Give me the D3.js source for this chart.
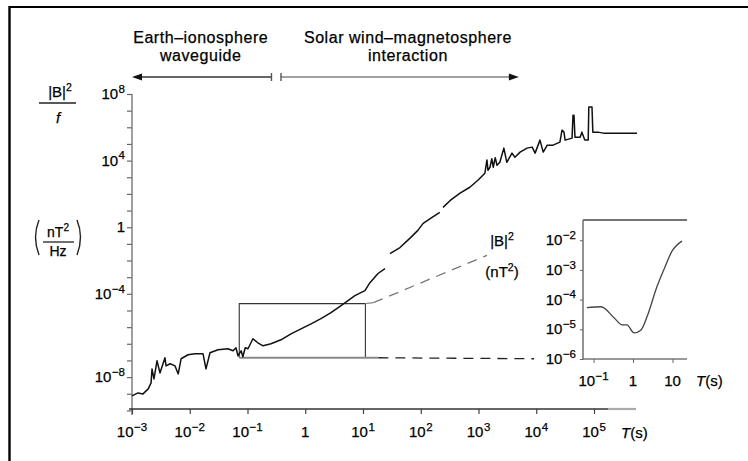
<!DOCTYPE html>
<html><head><meta charset="utf-8">
<script src="https://cdn.jsdelivr.net/npm/d3@7"></script>
<style>
body{margin:0;background:#fff}
svg{display:block}
text{font-family:"Liberation Sans",Arial,Helvetica,sans-serif;fill:#000;stroke:#000;stroke-width:0.25}
</style>
</head><body>
<svg id="c" width="748" height="461"></svg>
<script>
// ---- data (period T in s, |B|^2/f in nT^2/Hz); null = gap in the trace
const periods = [1.0e-3,1.27e-3,1.55e-3,1.91e-3,2.14e-3,2.22e-3,2.40e-3,2.71e-3,3.05e-3,3.72e-3,3.89e-3,4.57e-3,5.56e-3,6.31e-3,7.08e-3,9.33e-3,
  1.23e-2,1.70e-2,1.91e-2,2.24e-2,3.09e-2,4.57e-2,5.62e-2,6.31e-2,6.84e-2,7.76e-2,8.32e-2,9.12e-2,0.102,0.124,0.151,0.186,0.255,0.380,0.566,0.843,
  1.26,1.87,2.79,4.17,5.50,7.24,10.8,13.2,18.2,24.0,null,
  29.3,43.7,64.6,89.1,110,157,214,null,
  243,324,479,708,977,1290,1400,1460,1580,1700,1800,1950,2090,2340,2750,3090,3800,4270,5250,6920,8510,9550,
  1.16e4,1.32e4,1.55e4,1.95e4,2.57e4,2.79e4,3.02e4,3.16e4,4.17e4,4.33e4,4.50e4,4.68e4,5.75e4,6.17e4,6.92e4,7.94e4,8.13e4,9.23e4,9.55e4,
  1.17e5,1.45e5,5.56e5];
const power = [7.4e-11,1.12e-10,9.8e-11,1.95e-10,4.47e-10,3.09e-9,7.76e-10,9.55e-9,1.78e-9,1.45e-8,4.68e-9,6.31e-9,4.68e-9,1.55e-9,1.26e-8,2.19e-8,
  2.51e-8,2.51e-8,3.09e-9,2.88e-8,4.37e-8,5.01e-8,3.80e-8,5.75e-8,1.91e-8,3.80e-8,1.66e-8,5.75e-8,5.01e-8,2.0e-7,1.15e-7,7.59e-8,1.0e-7,1.74e-7,3.98e-7,7.94e-7,
  1.58e-6,3.24e-6,7.41e-6,1.95e-5,3.89e-5,7.76e-5,1.55e-4,4.68e-4,1.66e-3,3.31e-3,null,
  2.63e-2,6.03e-2,0.214,0.646,1.70,3.89,7.76,null,
  15.5,40.7,110,251,661,1740,1.1e4,2600,3980,1.3e4,4000,1.5e4,5250,7940,5.62e4,7940,2.82e4,1.58e4,3.24e4,5.62e4,6.46e4,2.82e4,
  1.70e5,3.24e4,8.51e4,8.51e4,1.29e5,6.76e5,5.13e5,1.70e5,2.24e5,5.37e6,5.37e6,2.57e5,2.57e5,5.13e5,1.70e5,1.70e5,1.66e7,1.66e7,5.13e5,
  5.13e5,4.47e5,4.47e5];

// inset: |B|^2 (nT^2) vs T (s)
const insetPeriods = [0.068,0.155,0.33,0.53,0.70,1.06,1.6,2.26,4.05,6.1,9.7,17.4];
const insetPower = [5.37e-5,5.75e-5,2.45e-5,1.41e-5,1.41e-5,7.59e-6,9.55e-6,2.63e-5,2.75e-4,1.05e-3,4.27e-3,9.33e-3];

// ticks / labels
const xTickVals = [1e-3,1e-2,1e-1,1,1e1,1e2,1e3,1e4,1e5];
const xTickLabels = [["10","−3"],["10","−2"],["10","−1"],["1",""],["10","1"],["10","2"],["10","3"],["10","4"],["10","5"]];
const yMinorVals = [1e-11,1e-10,1e-9,1e-8,1e-7,1e-6,1e-5,1e-4,1e-3,1e-2,1e-1,1,1e1,1e2,1e3,1e4,1e5,1e6,1e7,1e8];
const yTickVals = [1e8,1e4,1,1e-4,1e-9];
const yTickLabels = [["10","8"],["10","4"],["1",""],["10","−4"],["10","−8"]];
const insetXTickVals = [0.1,1,10];
const insetXTickLabels = [["10","−1"],["1",""],["10",""]];
const insetYTickVals = [1e-2,1e-3,1e-4,1e-5,1e-6];
const insetYTickLabels = [["10","−2"],["10","−3"],["10","−4"],["10","−5"],["10","−6"]];

const regionNames = [["Earth–ionosphere","waveguide"],["Solar  wind–magnetosphere","interaction"]];
const regionSpans = [[1e-3,0.26],[0.38,5.0e3]];
const zoomBox = {t0:0.072, t1:11, p0:1.45e-8, p1:2.57e-5};

// ---- drawing
const svg = d3.select("#c");
const x = d3.scaleLog().domain([1e-3,1e5]).range([132,594]);
const y = d3.scaleLog().domain([1e-11,1e8]).range([410.4,94]);
const ix = d3.scaleLog().domain([0.054,23.3]).range([583,687]);
const iy = d3.scaleLog().domain([1e-6,0.048]).range([359,220]);

// frame
svg.append("line").attr("x1",9).attr("x2",748).attr("y1",7).attr("y2",7).attr("stroke","#000").attr("stroke-width",2.2);
svg.append("line").attr("x1",9.5).attr("x2",9.5).attr("y1",6).attr("y2",461).attr("stroke","#000").attr("stroke-width",2.4);

function supText(g, base, sup, fs, sfs){
  const t = g.append("text").attr("font-size",fs);
  t.append("tspan").text(base);
  if (sup) t.append("tspan").attr("font-size",sfs).attr("dy",-fs*0.42).attr("dx",0.5).text(sup);
  return t;
}

// region headers
regionNames.forEach((lines,i)=>{
  const cx = (x(regionSpans[i][0]) + x(regionSpans[i][1]))/2 + (i===0? -1: 8);
  lines.forEach((s,j)=>{
    svg.append("text").attr("x",cx).attr("y",43+j*18).attr("text-anchor","middle")
      .attr("font-size",16).attr("letter-spacing",0.55).text(s);
  });
});
const ay = 77;
svg.append("line").attr("x1",x(regionSpans[0][0])+6).attr("x2",x(regionSpans[0][1])).attr("y1",ay).attr("y2",ay).attr("stroke","#666").attr("stroke-width",2);
svg.append("path").attr("d",`M${x(regionSpans[0][0])},${ay} l10,-3.5 l0,7 z`).attr("fill","#111");
svg.append("line").attr("x1",x(regionSpans[0][1])).attr("x2",x(regionSpans[0][1])).attr("y1",ay-4).attr("y2",ay+4).attr("stroke","#555").attr("stroke-width",1.4);
svg.append("line").attr("x1",x(regionSpans[1][0])).attr("x2",x(regionSpans[1][0])).attr("y1",ay-4).attr("y2",ay+4).attr("stroke","#555").attr("stroke-width",1.4);
svg.append("line").attr("x1",x(regionSpans[1][0])).attr("x2",x(regionSpans[1][1])-6).attr("y1",ay).attr("y2",ay).attr("stroke","#444").attr("stroke-width",1.2);
svg.append("path").attr("d",`M${x(regionSpans[1][1])},${ay} l-10,-3.5 l0,7 z`).attr("fill","#111");

// y axis
const gy = svg.append("g").attr("transform","translate(132,0)")
  .call(d3.axisLeft(y).tickValues(yMinorVals).tickSize(5).tickFormat(""));
gy.select(".domain").remove();
gy.selectAll(".tick line").attr("stroke","#666").attr("stroke-width",1.2);
svg.append("line").attr("x1",132).attr("x2",132).attr("y1",y(1e8)).attr("y2",415).attr("stroke","#777").attr("stroke-width",1.4);
yTickVals.forEach((v,i)=>{
  supText(svg, yTickLabels[i][0], yTickLabels[i][1], 15, 11.5)
    .attr("x",125).attr("y",y(v)+5).attr("text-anchor","end");
});

// x axis
const gx = svg.append("g").attr("transform","translate(0,409)")
  .call(d3.axisBottom(x).tickValues(xTickVals).tickSize(5).tickFormat(""));
gx.select(".domain").remove();
gx.selectAll(".tick line").attr("stroke","#444").attr("stroke-width",1.2);
svg.append("line").attr("x1",129).attr("x2",608).attr("y1",409).attr("y2",409).attr("stroke","#333").attr("stroke-width",1.4);
svg.append("line").attr("x1",608).attr("x2",636).attr("y1",409).attr("y2",409).attr("stroke","#aaa").attr("stroke-width",2.2);
xTickVals.forEach((v,i)=>{
  supText(svg, xTickLabels[i][0], xTickLabels[i][1], 15, 11.5)
    .attr("x",x(v)).attr("y",437).attr("text-anchor","middle");
});
const tl = svg.append("text").attr("x",621).attr("y",438).attr("font-size",15);
tl.append("tspan").attr("font-style","italic").text("T");
tl.append("tspan").text("(s)");

// y title
svg.append("text").attr("x",60).attr("y",97).attr("text-anchor","middle").attr("font-size",15)
  .call(t=>{t.append("tspan").text("|B|"); t.append("tspan").attr("font-size",10.5).attr("dy",-6).text("2");});
svg.append("line").attr("x1",39).attr("x2",76).attr("y1",103).attr("y2",103).attr("stroke","#222").attr("stroke-width",1.3);
svg.append("text").attr("x",58).attr("y",123).attr("text-anchor","middle").attr("font-size",15).attr("font-style","italic").text("f");
svg.append("text").attr("x",58).attr("y",237).attr("text-anchor","middle").attr("font-size",14)
  .call(t=>{t.append("tspan").text("nT"); t.append("tspan").attr("font-size",10).attr("dy",-6).text("2");});
svg.append("line").attr("x1",43).attr("x2",74).attr("y1",242).attr("y2",242).attr("stroke","#222").attr("stroke-width",1.3);
svg.append("text").attr("x",58).attr("y",256).attr("text-anchor","middle").attr("font-size",14).text("Hz");
svg.append("path").attr("d","M39,220 Q32,237 39,255").attr("fill","none").attr("stroke","#222").attr("stroke-width",1.4);
svg.append("path").attr("d","M77,220 Q84,237 77,255").attr("fill","none").attr("stroke","#222").attr("stroke-width",1.4);

// zoom box + connectors
const bx0 = x(zoomBox.t0), bx1 = x(zoomBox.t1), by0 = y(zoomBox.p1), by1 = y(zoomBox.p0);
svg.append("path").attr("d",`M${bx0},${by1} L${bx0},${by0} L${bx1},${by0} L${bx1},${by1}`)
  .attr("fill","none").attr("stroke","#333").attr("stroke-width",1.1);
svg.append("line").attr("x1",bx0).attr("x2",bx1+13).attr("y1",by1).attr("y2",by1).attr("stroke","#888").attr("stroke-width",2);
svg.append("line").attr("x1",bx1+13).attr("x2",ix.range()[0]-49).attr("y1",by1).attr("y2",by1+1)
  .attr("stroke","#222").attr("stroke-width",1.3).attr("stroke-dasharray","10,7");
svg.append("line").attr("x1",bx1).attr("x2",bx1+8).attr("y1",by0).attr("y2",by0-1).attr("stroke","#888").attr("stroke-width",1.2);
svg.append("line").attr("x1",bx1+8).attr("x2",ix.range()[0]-96).attr("y1",by0-1).attr("y2",iy(3.1e-3))
  .attr("stroke","#777").attr("stroke-width",1.3).attr("stroke-dasharray","10,7");

// main trace
const pts = periods.map((t,i)=>({t, p: power[i]}));
svg.append("path").datum(pts)
  .attr("d", d3.line().defined(d=>d.t!=null && d.p!=null).x(d=>x(d.t)).y(d=>y(d.p)))
  .attr("fill","none").attr("stroke","#111").attr("stroke-width",1.5).attr("stroke-linejoin","round");

// inset
svg.append("line").attr("x1",ix.range()[0]).attr("x2",ix.range()[1]).attr("y1",220).attr("y2",220).attr("stroke","#444").attr("stroke-width",1.5);
svg.append("line").attr("x1",ix.range()[0]).attr("x2",ix.range()[0]).attr("y1",220).attr("y2",360).attr("stroke","#777").attr("stroke-width",1.6);
svg.append("line").attr("x1",ix.range()[0]).attr("x2",ix.range()[1]).attr("y1",359).attr("y2",359).attr("stroke","#777").attr("stroke-width",1.6);
const giy = svg.append("g").attr("transform",`translate(${ix.range()[0]},0)`)
  .call(d3.axisLeft(iy).tickValues(insetYTickVals).tickSize(3).tickFormat(""));
giy.select(".domain").remove();
giy.selectAll(".tick line").attr("stroke","#666");
const gix = svg.append("g").attr("transform","translate(0,359)")
  .call(d3.axisBottom(ix).tickValues(insetXTickVals).tickSize(4).tickFormat(""));
gix.select(".domain").remove();
gix.selectAll(".tick line").attr("stroke","#666");
insetYTickVals.forEach((v,i)=>{
  supText(svg, insetYTickLabels[i][0], insetYTickLabels[i][1], 15, 11.5)
    .attr("x",576).attr("y",iy(v)+5).attr("text-anchor","end");
});
insetXTickVals.forEach((v,i)=>{
  supText(svg, insetXTickLabels[i][0], insetXTickLabels[i][1], 15, 11.5)
    .attr("x",ix(v)).attr("y",386).attr("text-anchor","middle");
});
const itl = svg.append("text").attr("x",696).attr("y",386).attr("font-size",15);
itl.append("tspan").attr("font-style","italic").text("T");
itl.append("tspan").text("(s)");
svg.append("text").attr("x",502).attr("y",246).attr("text-anchor","middle").attr("font-size",15)
  .call(t=>{t.append("tspan").text("|B|"); t.append("tspan").attr("font-size",10.5).attr("dy",-6).text("2");});
svg.append("text").attr("x",502).attr("y",277).attr("text-anchor","middle").attr("font-size",15)
  .call(t=>{t.append("tspan").text("(nT"); t.append("tspan").attr("font-size",10.5).attr("dy",-6).text("2");
            t.append("tspan").attr("dy",6).text(")");});
const ipts = insetPeriods.map((t,i)=>({t, p: insetPower[i]}));
svg.append("path").datum(ipts)
  .attr("d", d3.line().curve(d3.curveMonotoneX).x(d=>ix(d.t)).y(d=>iy(d.p)))
  .attr("fill","none").attr("stroke","#444").attr("stroke-width",1.3);
</script>
</body></html>
